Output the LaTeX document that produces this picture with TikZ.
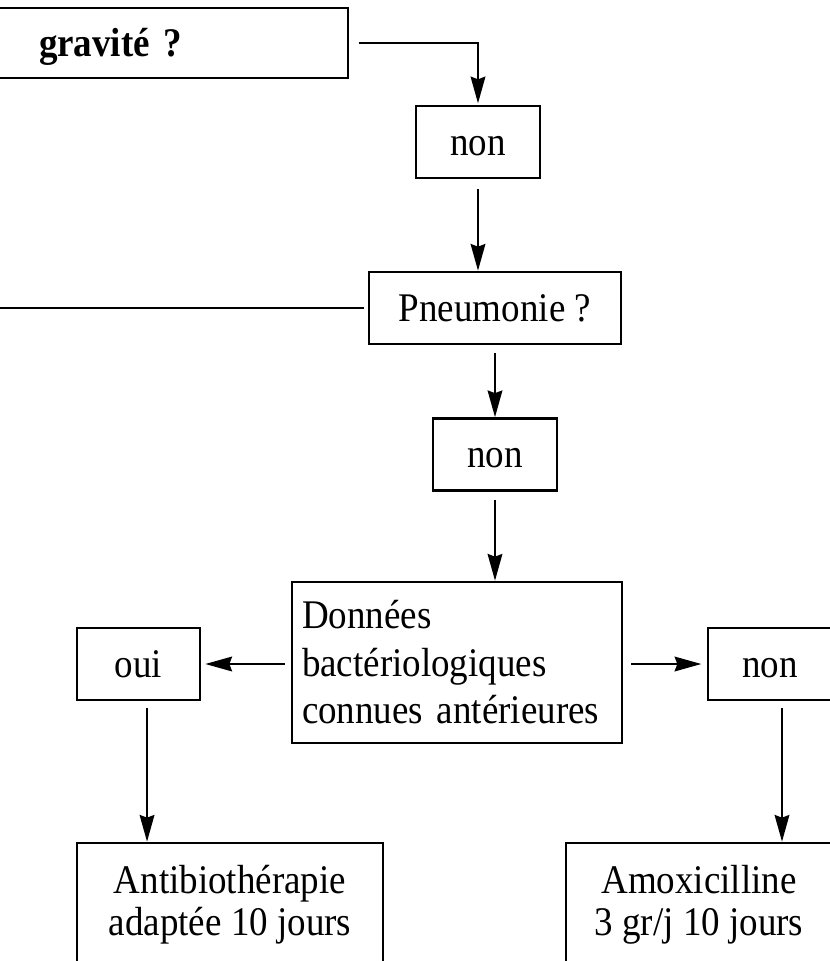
\documentclass[tikz,border=0pt]{standalone}
\usepackage{fontspec}
\setmainfont{Liberation Serif}[FakeStretch=0.91]
\usetikzlibrary{arrows.meta}
\begin{document}
\begin{tikzpicture}[x=0.75pt,y=-0.75pt,
  txt/.style={font=\fontsize{30.5pt}{35.6pt}\selectfont},
  box/.style={draw, line width=2pt, rectangle, inner sep=0pt, align=center, txt},
  onebox/.style={box, text height=20.2pt, text depth=0pt, minimum height=54pt},
  smallbox/.style={onebox, minimum width=93pt},
  link/.style={line width=1.7pt},
  arr/.style={link, -{Stealth[length=20pt,width=11pt,inset=2pt]}},
]
% page area
\fill[white] (0,0) rectangle (830,961);
\useasboundingbox (0,0) rectangle (830,961);

% boxes
\node[onebox, text width=187.5pt, inner xsep=44.25pt, align=left,
      minimum height=52.5pt,
      font=\fontsize{30.5pt}{35.6pt}\selectfont\bfseries] (grav) at (164,43) {gravité ?};
\node[smallbox] (non1) at (478,142) {non};
\node[onebox, minimum width=189pt] (pneu) at (495,308) {Pneumonie ?};
\node[smallbox] (non2) at (495,454.5) {non};
\node[box, text width=232.5pt, inner xsep=7.5pt, align=left,
      minimum height=120.75pt] (donn) at (457,662.5)
      {Données\\bactériologiques\\connues antérieures};
\node[smallbox, minimum width=92.25pt] (oui) at (138.5,664) {oui};
\node[smallbox] (non3) at (770,664) {non};
\node[box, minimum width=229.5pt, minimum height=93pt,
      font=\fontsize{30.5pt}{31.5pt}\selectfont] (anti) at (230,905)
      {Antibiothérapie\\adaptée 10 jours};
\node[box, minimum width=199.5pt, minimum height=93pt,
      font=\fontsize{30.5pt}{31.5pt}\selectfont] (amox) at (699,905)
      {Amoxicilline\\3 gr/j 10 jours};

% free end of the line leaving to the left
\coordinate (out) at (-10,308);

% connectors
\draw[arr, shorten <=7pt, shorten >=1pt] (grav.east) -| (non1.north);
\draw[arr, shorten <=7.5pt] (non1.south) -- (non1.south |- pneu.north);
\draw[link, shorten <=3pt] (pneu.west) -- (out);
\draw[arr, shorten <=6pt] (pneu.south) -- (non2.north);
\draw[arr, shorten <=6pt] (non2.south) -- (non2.south |- donn.north);
\draw[arr, shorten <=4.5pt, shorten >=3pt] (donn.west |- oui.east) -- (oui.east);
\draw[arr, shorten <=6pt, shorten >=4pt] (donn.east |- non3.west) -- (non3.west);
\draw[arr, shorten <=5pt] ([xshift=6.4pt]oui.south) -- ([xshift=6.4pt]oui.south |- anti.north);
\draw[arr, shorten <=5pt] ([xshift=9pt]non3.south) -- ([xshift=9pt]non3.south |- amox.north);
\end{tikzpicture}
\end{document}
